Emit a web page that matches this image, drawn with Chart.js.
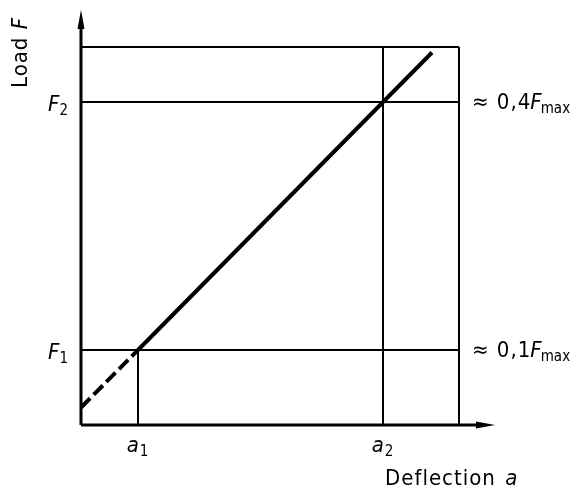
<!DOCTYPE html>
<html>
<head>
<meta charset="utf-8">
<script src="https://cdn.jsdelivr.net/npm/chart.js@4.4.0/dist/chart.umd.min.js"></script>
<style>
  html, body { margin: 0; padding: 0; background: #fff; }
  canvas { display: block; }
</style>
</head>
<body>
<canvas id="chart" width="573" height="497"></canvas>
<script>
// Valores del esquema (unidades del diagrama)
const xMax = 414;            // fin del eje de deflexión (flecha)
const yMax = 415;            // fin del eje de carga (flecha)
const boxEdge = 378;         // marco superior / derecho
const aMarks = [57, 302];    // a1, a2
const fMarks = [75, 323];    // F1, F2
const aLabels = ['1', '2'];
const fLabels = ['1', '2'];
const rightLabels = ['0,1', '0,4'];
// recta carga-deflexión: tramo extrapolado (discontinuo) y tramo medido
const lineX = [0, 57, 351];
const lineY = [17.5, 75, 372.5];

const FONT = '"DejaVu Sans Condensed", "DejaVu Sans", sans-serif';

function seg(x1, y1, x2, y2, w, dash) {
  return {
    data: [{ x: x1, y: y1 }, { x: x2, y: y2 }],
    showLine: true,
    borderColor: '#000',
    borderWidth: w,
    borderDash: dash || [],
    pointRadius: 0,
    borderCapStyle: 'butt'
  };
}

const datasets = [
  // marco
  seg(0, boxEdge, boxEdge, boxEdge, 2),
  seg(boxEdge, 0, boxEdge, boxEdge, 2),
  // líneas F1, F2
  seg(0, fMarks[0], boxEdge, fMarks[0], 2),
  seg(0, fMarks[1], boxEdge, fMarks[1], 2),
  // líneas a1, a2
  seg(aMarks[0], 0, aMarks[0], fMarks[0], 2),
  seg(aMarks[1], 0, aMarks[1], boxEdge, 2),
  // recta
  seg(lineX[0], lineY[0], lineX[1], lineY[1], 4, [13, 5]),
  seg(lineX[1], lineY[1], lineX[2], lineY[2], 4),
  // ejes
  seg(0, 0, xMax - 10, 0, 3),
  seg(0, 0, 0, yMax - 10, 3)
];

// Flechas y textos
const annotations = {
  id: 'annotations',
  afterDatasetsDraw(chart) {
    const ctx = chart.ctx;
    const sx = chart.scales.x, sy = chart.scales.y;
    const x0 = sx.getPixelForValue(0), y0 = sy.getPixelForValue(0);
    ctx.save();
    ctx.fillStyle = '#000';

    // flecha eje x
    const xt = sx.getPixelForValue(xMax);
    ctx.beginPath();
    ctx.moveTo(xt, y0);
    ctx.lineTo(xt - 19, y0 - 3.5);
    ctx.lineTo(xt - 19, y0 + 3.5);
    ctx.closePath();
    ctx.fill();
    // flecha eje y
    const yt = sy.getPixelForValue(yMax);
    ctx.beginPath();
    ctx.moveTo(x0, yt);
    ctx.lineTo(x0 - 3.5, yt + 19);
    ctx.lineTo(x0 + 3.5, yt + 19);
    ctx.closePath();
    ctx.fill();

    ctx.textBaseline = 'middle';
    ctx.letterSpacing = '1px';
    const main = 'italic 22px ' + FONT;
    const sub = '15px ' + FONT;
    const norm = '22px ' + FONT;

    // F1, F2
    fMarks.forEach((v, i) => {
      const py = sy.getPixelForValue(v);
      ctx.textAlign = 'left';
      ctx.font = main;
      const fw = ctx.measureText('F').width;
      ctx.fillText('F', 48, py + 3);
      ctx.font = sub;
      ctx.fillText(fLabels[i], 48 + fw - 1, py + 9);
    });

    // a1, a2
    aMarks.forEach((v, i) => {
      const px = sx.getPixelForValue(v);
      ctx.textAlign = 'left';
      ctx.font = main;
      const w1 = ctx.measureText('a').width;
      ctx.font = sub;
      const w2 = ctx.measureText(aLabels[i]).width;
      const start = px - (w1 + w2) / 2;
      ctx.font = main;
      ctx.fillText('a', start, y0 + 21);
      ctx.font = sub;
      ctx.fillText(aLabels[i], start + w1, y0 + 27);
    });

    // ≈ 0,1Fmax / ≈ 0,4Fmax
    fMarks.forEach((v, i) => {
      const py = sy.getPixelForValue(v);
      let px = 472;
      ctx.textAlign = 'left';
      ctx.font = norm;
      ctx.fillText('\u2248', px, py + 1);
      px += ctx.measureText('\u2248 ').width;
      ctx.fillText(rightLabels[i], px, py + 1);
      px += ctx.measureText(rightLabels[i]).width - 1;
      ctx.font = main;
      ctx.fillText('F', px, py + 1);
      px += ctx.measureText('F').width - 2;
      ctx.font = sub;
      ctx.letterSpacing = '0px';
      ctx.fillText('max', px, py + 7);
      ctx.letterSpacing = '1px';
    });

    // título eje x
    ctx.textAlign = 'left';
    ctx.font = norm;
    ctx.fillText('Deflection ', 385, 479);
    const dw = ctx.measureText('Deflection ').width;
    ctx.font = main;
    ctx.fillText('a', 385 + dw + 2, 479);

    // título eje y
    ctx.save();
    ctx.translate(21, 88);
    ctx.rotate(-Math.PI / 2);
    ctx.textAlign = 'left';
    ctx.font = norm;
    ctx.fillText('Load ', 0, 0);
    const lw = ctx.measureText('Load ').width;
    ctx.font = main;
    ctx.fillText('F', lw, 0);
    ctx.restore();

    ctx.restore();
  }
};

new Chart(document.getElementById('chart'), {
  type: 'scatter',
  data: { datasets },
  options: {
    responsive: false,
    animation: false,
    clip: false,
    layout: { padding: { left: 81, right: 78, top: 10, bottom: 72 } },
    plugins: { legend: { display: false }, tooltip: { enabled: false } },
    scales: {
      x: { type: 'linear', min: 0, max: xMax, display: false },
      y: { type: 'linear', min: 0, max: yMax, display: false }
    }
  },
  plugins: [annotations]
});
</script>
</body>
</html>
